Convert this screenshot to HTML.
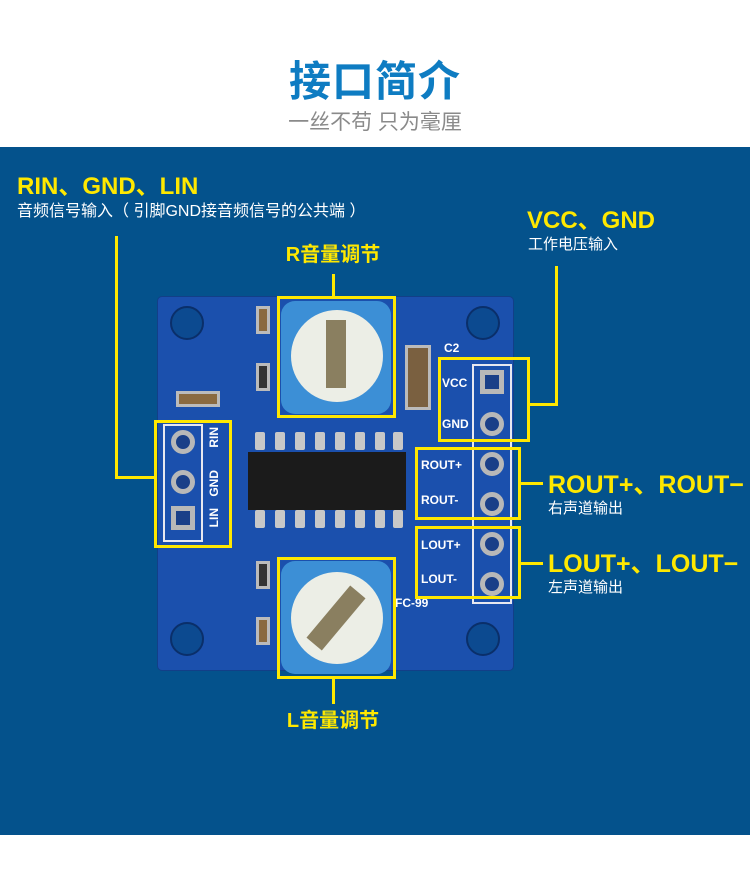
<!DOCTYPE html>
<html><head><meta charset="utf-8"><style>
*{margin:0;padding:0;box-sizing:border-box}
body{width:750px;height:880px;background:#fff;position:relative;overflow:hidden;font-family:"Liberation Sans","Noto Sans CJK SC",sans-serif}
.a{position:absolute}
.y{color:#ffe800;font-weight:bold;white-space:nowrap}
.w{color:#fff;white-space:nowrap}
.box{position:absolute;border:3px solid #ffe800}
.ln{position:absolute;background:#ffe800}
.hole{position:absolute;width:34px;height:34px;border-radius:50%;background:#0c4a90;border:2px solid #0a2f6a}
.pad{position:absolute;width:24px;height:24px;border-radius:50%;background:#1a3f88;border:5px solid #b8b8b8}
.pin{position:absolute;width:10px;height:18px;background:#c8c8c8;border-radius:2px}
.sl{position:absolute;color:#fff;font-weight:bold;font-size:12px}
</style></head><body>
<div class="a" style="left:0;top:58px;width:750px;text-align:center;font-size:42px;font-weight:bold;color:#0e7cc2;letter-spacing:1px;line-height:48px">接口简介</div>
<div class="a" style="left:0;top:109px;width:750px;text-align:center;font-size:21px;color:#8a8a8a;line-height:28px">一丝不苟 只为毫厘</div>
<div class="a" style="left:0;top:147px;width:750px;height:688px;background:#04528c"></div>

<!-- PCB -->
<div class="a" style="left:158px;top:297px;width:355px;height:373px;background:#1b50ad;border-radius:4px;box-shadow:0 0 0 1px #123f88"></div>
<div class="hole" style="left:170px;top:306px"></div>
<div class="hole" style="left:466px;top:306px"></div>
<div class="hole" style="left:170px;top:622px"></div>
<div class="hole" style="left:466px;top:622px"></div>
<!-- IC -->
<div class="a" style="left:248px;top:452px;width:158px;height:58px;background:#1b1b1b"></div>
<div class="pin" style="left:255px;top:432px"></div><div class="pin" style="left:275px;top:432px"></div><div class="pin" style="left:295px;top:432px"></div><div class="pin" style="left:315px;top:432px"></div><div class="pin" style="left:335px;top:432px"></div><div class="pin" style="left:355px;top:432px"></div><div class="pin" style="left:375px;top:432px"></div><div class="pin" style="left:393px;top:432px"></div>
<div class="pin" style="left:255px;top:510px"></div><div class="pin" style="left:275px;top:510px"></div><div class="pin" style="left:295px;top:510px"></div><div class="pin" style="left:315px;top:510px"></div><div class="pin" style="left:335px;top:510px"></div><div class="pin" style="left:355px;top:510px"></div><div class="pin" style="left:375px;top:510px"></div><div class="pin" style="left:393px;top:510px"></div>
<!-- pots -->
<div class="a" style="left:281px;top:301px;width:110px;height:113px;background:#3c8fd6;border-radius:14px"></div>
<div class="a" style="left:291px;top:310px;width:92px;height:92px;background:#eceee6;border-radius:50%"></div>
<div class="a" style="left:326px;top:320px;width:20px;height:68px;background:#8a7f60"></div>
<div class="a" style="left:281px;top:561px;width:110px;height:113px;background:#3c8fd6;border-radius:14px"></div>
<div class="a" style="left:291px;top:572px;width:92px;height:92px;background:#eceee6;border-radius:50%"></div>
<div class="a" style="left:326px;top:584px;width:20px;height:68px;background:#8a7f60;transform:rotate(40deg)"></div>
<!-- caps -->
<div class="a" style="left:256px;top:306px;width:14px;height:28px;background:#8a6a40;border:3px solid #bbb"></div>
<div class="a" style="left:256px;top:363px;width:14px;height:28px;background:#333;border:3px solid #bbb"></div>
<div class="a" style="left:405px;top:345px;width:26px;height:65px;background:#7a6040;border:3px solid #bbb"></div>
<div class="a" style="left:176px;top:391px;width:44px;height:16px;background:#8a6a40;border:3px solid #bbb"></div>
<div class="a" style="left:256px;top:561px;width:14px;height:28px;background:#333;border:3px solid #bbb"></div>
<div class="a" style="left:256px;top:617px;width:14px;height:28px;background:#8a6a40;border:3px solid #bbb"></div>
<div class="sl" style="left:444px;top:341px">C2</div>
<div class="sl" style="left:395px;top:596px">FC-99</div>
<!-- headers -->
<div class="a" style="left:163px;top:424px;width:40px;height:118px;border:2px solid #e8e8f0"></div>
<div class="pad" style="left:171px;top:430px"></div>
<div class="pad" style="left:171px;top:470px"></div>
<div class="a" style="left:171px;top:506px;width:24px;height:24px;background:#1a3f88;border:5px solid #b8b8b8"></div>
<div class="sl" style="left:207px;top:427px;writing-mode:vertical-rl;transform:rotate(180deg)">RIN</div>
<div class="sl" style="left:207px;top:470px;writing-mode:vertical-rl;transform:rotate(180deg)">GND</div>
<div class="sl" style="left:207px;top:508px;writing-mode:vertical-rl;transform:rotate(180deg)">LIN</div>
<div class="a" style="left:472px;top:364px;width:40px;height:240px;border:2px solid #e8e8f0"></div>
<div class="a" style="left:480px;top:370px;width:24px;height:24px;background:#1a3f88;border:5px solid #b8b8b8"></div>
<div class="pad" style="left:480px;top:412px"></div>
<div class="pad" style="left:480px;top:452px"></div>
<div class="pad" style="left:480px;top:492px"></div>
<div class="pad" style="left:480px;top:532px"></div>
<div class="pad" style="left:480px;top:572px"></div>
<div class="sl" style="left:442px;top:376px">VCC</div>
<div class="sl" style="left:442px;top:417px">GND</div>
<div class="sl" style="left:421px;top:458px">ROUT+</div>
<div class="sl" style="left:421px;top:493px">ROUT-</div>
<div class="sl" style="left:421px;top:538px">LOUT+</div>
<div class="sl" style="left:421px;top:572px">LOUT-</div>

<!-- yellow boxes -->
<div class="box" style="left:277px;top:296px;width:119px;height:122px"></div>
<div class="box" style="left:277px;top:557px;width:119px;height:122px"></div>
<div class="box" style="left:154px;top:420px;width:78px;height:128px"></div>
<div class="box" style="left:438px;top:357px;width:92px;height:85px"></div>
<div class="box" style="left:415px;top:447px;width:106px;height:73px"></div>
<div class="box" style="left:415px;top:526px;width:106px;height:73px"></div>
<!-- lines -->
<div class="ln" style="left:115px;top:236px;width:3px;height:243px"></div>
<div class="ln" style="left:115px;top:476px;width:40px;height:3px"></div>
<div class="ln" style="left:332px;top:274px;width:3px;height:23px"></div>
<div class="ln" style="left:332px;top:679px;width:3px;height:25px"></div>
<div class="ln" style="left:555px;top:266px;width:3px;height:140px"></div>
<div class="ln" style="left:529px;top:403px;width:29px;height:3px"></div>
<div class="ln" style="left:521px;top:482px;width:22px;height:3px"></div>
<div class="ln" style="left:521px;top:562px;width:22px;height:3px"></div>

<!-- labels -->
<div class="a y" style="left:17px;top:172px;font-size:24px;line-height:30px">RIN、GND、LIN</div>
<div class="a w" style="left:17px;top:202px;font-size:16px;line-height:20px">音频信号输入（ 引脚GND接音频信号的公共端 ）</div>
<div class="a y" style="left:527px;top:206px;font-size:24px;line-height:30px">VCC、GND</div>
<div class="a w" style="left:528px;top:235px;font-size:15px;line-height:20px">工作电压输入</div>
<div class="a y" style="left:233px;top:242px;width:200px;text-align:center;font-size:20px;line-height:26px">R音量调节</div>
<div class="a y" style="left:233px;top:708px;width:200px;text-align:center;font-size:20px;line-height:26px">L音量调节</div>
<div class="a y" style="left:548px;top:470px;font-size:25px;line-height:30px">ROUT+、ROUT−</div>
<div class="a w" style="left:548px;top:499px;font-size:15px;line-height:20px">右声道输出</div>
<div class="a y" style="left:548px;top:549px;font-size:25px;line-height:30px">LOUT+、LOUT−</div>
<div class="a w" style="left:548px;top:578px;font-size:15px;line-height:20px">左声道输出</div>
</body></html>
